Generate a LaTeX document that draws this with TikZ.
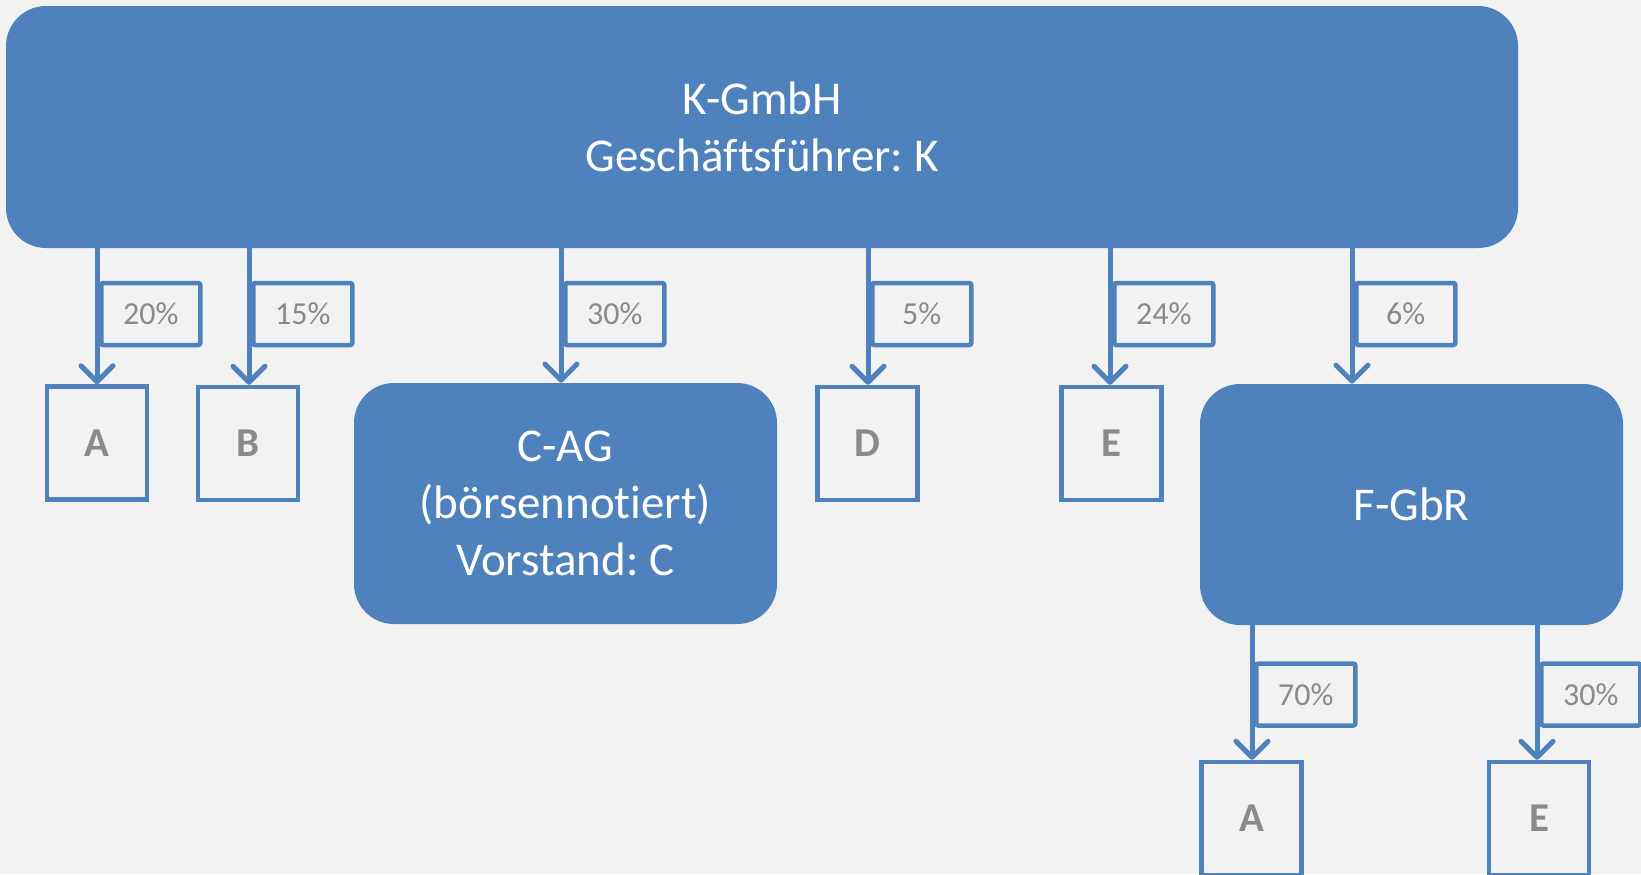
\documentclass[tikz,border=0pt]{standalone}
\usepackage{fontspec}
\setmainfont{Carlito}[Ligatures=NoCommon]
\usetikzlibrary{arrows.meta}
\definecolor{boxblue}{HTML}{4F81BD}
\definecolor{paper}{HTML}{F2F2F2}
\definecolor{labelgray}{HTML}{8A8A8A}
\tikzset{
  entity/.style={fill=boxblue, rounded corners=20pt, text=white, align=center,
    font=\fontsize{23.5}{28.6}\selectfont, inner sep=0pt},
  holder/.style={draw=boxblue, line width=2.25pt, fill=paper, minimum width=50pt,
    minimum height=56.5pt, inner sep=0pt, text=labelgray,
    font=\fontsize{20.5}{24}\selectfont\bfseries},
  share/.style={draw=boxblue, line width=2.25pt, fill=paper, rounded corners=1pt,
    minimum width=49.5pt, minimum height=31pt, inner sep=0pt, anchor=west,
    text=labelgray, font=\fontsize{16}{19}\selectfont},
  owns/.style={draw=boxblue, line width=2.5pt,
    -{Straight Barb[length=8pt, width=16pt, round]}},
}
\begin{document}
\frenchspacing
\begin{tikzpicture}[x=0.5pt, y=-0.5pt]
  % canvas
  \fill[paper] (0,0) rectangle (1641,874);
  \useasboundingbox (0,0) rectangle (1641,874);

  % parent company
  \node[entity, minimum width=756pt, minimum height=121pt] (K) at (762,127)
    {K-GmbH\\Geschäftsführer: K};

  % direct shareholdings
  \node[holder] (A) at (97,443) {A};
  \node[holder] (B) at (248,443.5) {B};
  \node[entity, minimum width=211.5pt, minimum height=120.5pt] (C) at (565.5,503.5)
    {C-AG\\(börsennotiert)\\Vorstand: C};
  \node[holder] (D) at (867.5,443.5) {D};
  \node[holder] (E) at (1111.5,443.5) {E};
  \node[entity, minimum width=211.5pt, minimum height=120.5pt] (F) at (1411.5,504.5)
    {F-GbR};

  % partners of the GbR
  \node[holder] (FA) at (1251.5,818.5) {A};
  \node[holder] (FE) at (1539,818.5) {E};

  % entry points of the arrows
  \coordinate (ax) at (97,0);
  \coordinate (bx) at (249,0);
  \coordinate (cx) at (561,0);
  \coordinate (dx) at (868,0);
  \coordinate (ex) at (1110,0);
  \coordinate (fx) at (1352,0);
  \coordinate (fax) at (1252,0);
  \coordinate (fex) at (1537,0);

  % share labels
  \node[share] (pa) at (99,314) {20\%};
  \node[share] (pb) at (251,314) {15\%};
  \node[share] (pc) at (563,314) {30\%};
  \node[share] (pd) at (870,314) {5\%};
  \node[share] (pe) at (1112,314) {24\%};
  \node[share] (pf) at (1354,314) {6\%};
  \node[share] (pfa) at (1254,694.5) {70\%};
  \node[share] (pfe) at (1539,694.5) {30\%};

  % ownership arrows
  \draw[owns] (K.south -| ax) -- (A.north -| ax);
  \draw[owns] (K.south -| bx) -- (B.north -| bx);
  \draw[owns] (K.south -| cx) -- (C.north -| cx);
  \draw[owns] (K.south -| dx) -- (D.north -| dx);
  \draw[owns] (K.south -| ex) -- (E.north -| ex);
  \draw[owns] (K.south -| fx) -- (F.north -| fx);
  \draw[owns] (F.south -| fax) -- (FA.north -| fax);
  \draw[owns] (F.south -| fex) -- (FE.north -| fex);
\end{tikzpicture}
\end{document}
